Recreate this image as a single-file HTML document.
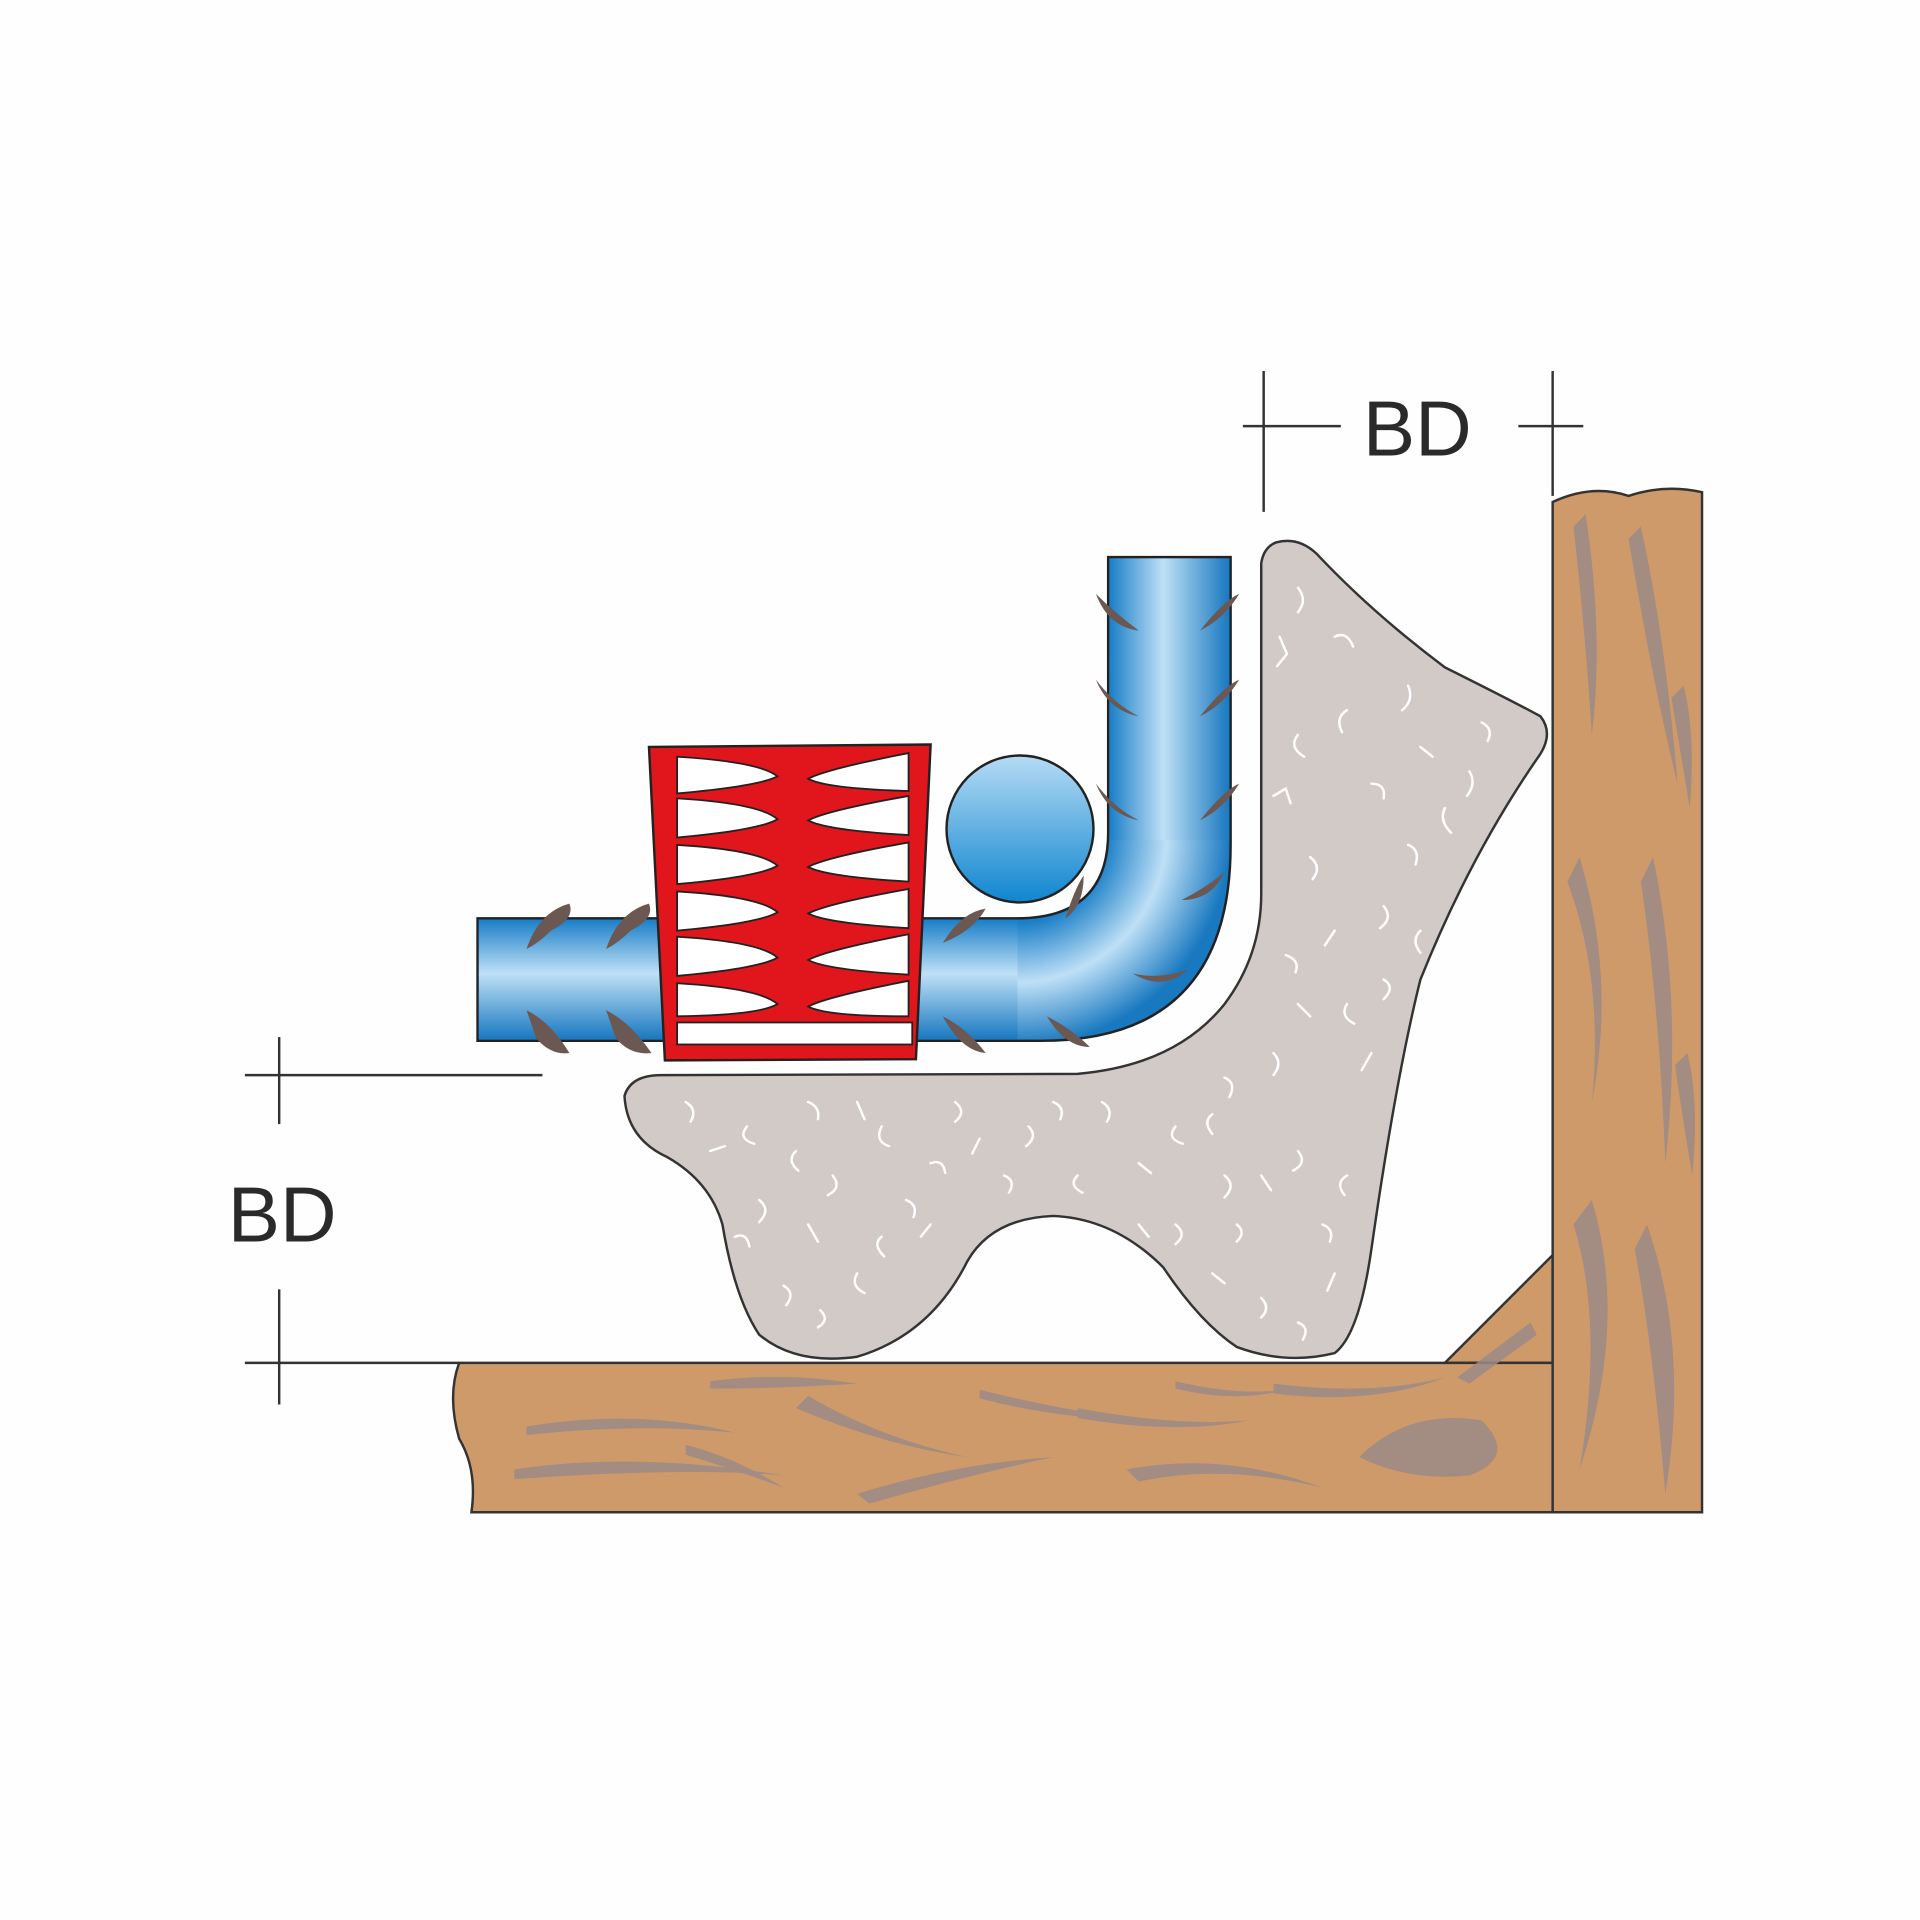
<!DOCTYPE html>
<html><head><meta charset="utf-8"><style>
html,body{margin:0;padding:0;background:#fefefe}
svg{display:block}
</style></head><body>
<svg width="1920" height="1920" viewBox="0 0 1568 1568" xmlns="http://www.w3.org/2000/svg">
<defs>
<linearGradient id="hg" x1="0" y1="0" x2="0" y2="1">
<stop offset="0" stop-color="#1a7fc8"/><stop offset="0.45" stop-color="#bfe0f6"/><stop offset="1" stop-color="#1878c0"/></linearGradient>
<linearGradient id="vg" x1="0" y1="0" x2="1" y2="0">
<stop offset="0" stop-color="#1a7fc8"/><stop offset="0.45" stop-color="#bfe0f6"/><stop offset="1" stop-color="#1878c0"/></linearGradient>
<radialGradient id="cg" cx="830" cy="680" r="175" gradientUnits="userSpaceOnUse">
<stop offset="0.42" stop-color="#1a7fc8"/><stop offset="0.7" stop-color="#bfe0f6"/><stop offset="1" stop-color="#1878c0"/></radialGradient>
<linearGradient id="ball" x1="0" y1="0" x2="0" y2="1">
<stop offset="0" stop-color="#b5dbf4"/><stop offset="1" stop-color="#0f86cf"/></linearGradient>
</defs>
<rect width="1568" height="1568" fill="#fefefe"/>

<!-- wood -->
<path d="M1180,1113 L1268,1025 L1268,1113 Z" fill="#cf9a6a" stroke="#333" stroke-width="2"/>
<path d="M375,1113 L1270,1113 L1270,1235 L385,1235 Q390,1200 375,1175 Q365,1140 375,1113 Z" fill="#cf9a6a" stroke="#333" stroke-width="2"/>
<path d="M1268,410 Q1300,395 1330,405 Q1360,395 1390,402 L1390,1235 L1268,1235 Z" fill="#cf9a6a" stroke="#333" stroke-width="2"/>
<g fill="#9c8a86" opacity="0.85">
<path d="M430,1165 Q520,1150 600,1170 Q520,1162 430,1172Z"/>
<path d="M420,1200 Q520,1185 640,1205 Q560,1198 420,1208Z"/>
<path d="M650,1150 Q720,1180 790,1190 Q720,1175 660,1140Z"/>
<path d="M700,1220 Q780,1195 860,1190 Q790,1205 710,1228Z"/>
<path d="M880,1150 Q960,1165 1020,1160 Q960,1172 880,1158Z"/>
<path d="M920,1200 Q1000,1185 1080,1215 Q1000,1195 930,1210Z"/>
<path d="M1110,1190 Q1150,1150 1210,1160 Q1240,1190 1200,1205 Q1150,1210 1110,1190Z M1140,1188 Q1180,1170 1210,1180 Q1190,1195 1140,1188Z"/>
<path d="M1040,1130 Q1120,1140 1180,1125 Q1120,1148 1040,1138Z"/>
<path d="M580,1128 Q640,1120 700,1130 Q640,1134 580,1134Z"/>
<path d="M800,1135 Q860,1150 930,1160 Q860,1158 800,1142Z"/>
<path d="M560,1180 Q600,1190 640,1215 Q600,1200 560,1188Z"/>
<path d="M960,1128 Q1010,1140 1050,1135 Q1010,1146 960,1134Z"/>
<path d="M1190,1125 L1250,1080 L1255,1090 L1200,1130Z"/>
<path d="M1295,420 Q1310,520 1300,600 Q1295,520 1285,430Z"/>
<path d="M1340,430 Q1360,520 1370,640 Q1350,560 1330,440Z"/>
<path d="M1290,700 Q1320,800 1300,900 Q1310,800 1280,720Z"/>
<path d="M1350,700 Q1375,820 1360,950 Q1355,820 1340,720Z"/>
<path d="M1300,980 Q1330,1080 1290,1200 Q1310,1080 1285,1000Z"/>
<path d="M1345,1000 Q1380,1100 1360,1220 Q1350,1100 1335,1020Z"/>
<path d="M1375,560 Q1385,600 1380,660 Q1370,600 1365,570Z"/>
<path d="M1378,860 Q1388,900 1382,960 Q1372,900 1368,870Z"/>
</g>

<!-- concrete -->
<path d="M1042,443 Q1060,438 1075,452 Q1120,500 1180,545 Q1240,575 1258,585 Q1270,600 1255,620 Q1200,700 1160,800 Q1140,880 1120,1020 Q1110,1090 1090,1105 Q1050,1115 1010,1100 Q980,1080 950,1035 Q910,995 860,993 Q810,995 790,1030 Q760,1090 700,1108 Q650,1115 620,1090 Q600,1060 590,1000 Q580,965 545,945 Q512,930 510,895 Q515,878 540,878 L880,877 Q960,870 1000,820 Q1030,780 1030,730 L1030,460 Q1032,447 1042,443 Z" fill="#d2cac7" stroke="#333" stroke-width="2"/>
<g stroke="#fff" stroke-width="2" fill="none" stroke-linecap="round">
<path d="M1060,480 q8,10 0,20"/><path d="M1090,520 q10,-5 15,8"/><path d="M1150,560 q5,12 -5,20"/><path d="M1210,590 q10,5 5,15"/>
<path d="M1060,600 q-8,10 5,18"/><path d="M1120,640 q12,0 10,12"/><path d="M1180,660 q-5,10 5,20"/><path d="M1070,700 q10,8 2,18"/>
<path d="M1130,740 q8,10 -3,18"/><path d="M1050,780 q12,4 8,14"/><path d="M1100,820 q-6,10 6,16"/><path d="M1040,860 q8,8 0,18"/>
<path d="M560,900 q10,6 4,16"/><path d="M610,920 q-8,10 6,14"/><path d="M660,900 q10,4 8,14"/><path d="M720,920 q-6,12 6,16"/>
<path d="M780,900 q10,8 0,16"/><path d="M840,920 q8,8 -2,16"/><path d="M900,900 q10,6 4,16"/><path d="M960,920 q-8,10 6,14"/>
<path d="M620,980 q10,8 0,18"/><path d="M680,960 q8,10 -4,16"/><path d="M740,980 q10,4 6,14"/><path d="M1000,960 q10,8 0,18"/>
<path d="M1060,940 q8,10 -4,16"/><path d="M1080,1000 q10,4 6,14"/><path d="M640,1050 q10,6 2,16"/><path d="M1030,1060 q8,8 0,16"/>
<path d="M700,1040 q-6,10 6,16"/><path d="M960,1000 q10,8 0,16"/><path d="M880,960 q-8,8 4,14"/><path d="M820,960 q10,4 4,14"/>
<path d="M1045,520 l6,14 l-8,10"/><path d="M1100,580 q-10,6 -4,18"/><path d="M1160,610 l10,8"/><path d="M1200,630 q6,10 -2,20"/>
<path d="M1040,650 l10,-6 l4,12"/><path d="M1150,690 q10,4 6,16"/><path d="M1090,760 l-8,12"/><path d="M1160,760 q-8,8 0,18"/>
<path d="M1060,820 l10,10"/><path d="M1130,800 q10,6 0,16"/><path d="M1120,860 l-8,14"/><path d="M1000,880 q10,4 4,16"/>
<path d="M580,940 l12,-4"/><path d="M650,940 q-8,8 2,16"/><path d="M700,900 l6,14"/><path d="M760,950 q10,-4 12,8"/>
<path d="M800,930 l-6,12"/><path d="M860,900 q10,4 6,14"/><path d="M930,950 l10,8"/><path d="M990,910 q-8,6 0,16"/>
<path d="M1030,960 l8,12"/><path d="M1100,960 q-10,6 -2,16"/><path d="M1090,1040 l-6,14"/><path d="M1060,1080 q10,4 4,14"/>
<path d="M990,1040 l10,8"/><path d="M600,1010 q10,-4 12,8"/><path d="M660,1000 l8,14"/><path d="M720,1010 q-8,6 2,16"/>
<path d="M760,1000 l-8,10"/><path d="M670,1070 q8,8 -2,14"/><path d="M1010,1000 q8,6 0,14"/><path d="M930,1000 l8,10"/>
</g>

<!-- blue bar -->
<path d="M390,750 L830,750 Q905,750 905,680 L905,455 L1005,455 L1005,690 Q1005,850 850,850 L390,850 Z" fill="url(#cg)" stroke="#222" stroke-width="2"/>
<rect x="391" y="751" width="440" height="98" fill="url(#hg)"/>
<rect x="906" y="456" width="98" height="230" fill="url(#vg)"/>
<circle cx="833" cy="677" r="60" fill="url(#ball)" stroke="#222" stroke-width="2"/>

<!-- ribs -->
<g fill="#6b5853">
<path d="M430,775 Q440,745 465,738 Q470,750 450,760 Q440,770 430,775Z"/>
<path d="M495,775 Q505,745 530,738 Q535,750 515,760 Q505,770 495,775Z"/>
<path d="M430,825 Q450,835 465,860 Q450,862 438,848Z"/>
<path d="M495,825 Q515,835 532,860 Q515,862 503,848Z"/>
<path d="M770,770 Q785,745 805,742 Q795,760 770,770Z"/>
<path d="M770,830 Q790,840 805,860 Q785,858 770,830Z"/>
<path d="M855,830 Q875,840 890,855 Q870,855 855,830Z"/>
<path d="M870,750 Q878,725 885,715 Q885,740 870,750Z"/>
<path d="M925,795 Q945,800 970,792 Q950,810 925,795Z"/>
<path d="M965,735 Q985,725 1000,712 Q990,735 965,735Z"/>
<path d="M895,485 Q910,500 930,515 Q905,512 895,485Z"/>
<path d="M1012,485 Q1000,505 980,515 Q1000,490 1012,485Z"/>
<path d="M895,555 Q910,575 930,585 Q905,580 895,555Z"/>
<path d="M1012,555 Q1000,575 980,585 Q1000,560 1012,555Z"/>
<path d="M895,640 Q910,660 930,670 Q905,665 895,640Z"/>
<path d="M1012,640 Q1000,660 980,670 Q1000,645 1012,640Z"/>
</g>

<!-- red chair -->
<path d="M530,610 L760,608 L748,865 L543,866 Z" fill="#e1151c" stroke="#222" stroke-width="2"/>
<g fill="#fff" stroke="#222" stroke-width="1.5">
<path d="M553,618 Q620,622 635,634 Q620,642 553,648Z"/>
<path d="M553,652 Q620,656 635,669 Q620,678 553,684Z"/>
<path d="M553,690 Q620,694 635,707 Q620,716 553,722Z"/>
<path d="M553,728 Q620,732 635,745 Q620,754 553,760Z"/>
<path d="M553,765 Q620,769 635,782 Q620,791 553,797Z"/>
<path d="M553,803 Q620,807 635,820 Q620,829 553,830Z"/>
<path d="M742,615 Q675,628 660,636 Q675,644 742,646Z"/>
<path d="M742,650 Q675,662 660,670 Q675,678 742,682Z"/>
<path d="M742,688 Q675,700 660,708 Q675,716 742,720Z"/>
<path d="M742,726 Q675,738 660,746 Q675,754 742,758Z"/>
<path d="M742,763 Q675,776 660,784 Q675,792 742,796Z"/>
<path d="M742,801 Q675,814 660,822 Q675,830 742,830Z"/>
<rect x="553" y="835" width="192" height="18"/>
</g>

<!-- dimension lines -->
<g stroke="#333" stroke-width="2">
<line x1="1032" y1="303" x2="1032" y2="418"/><line x1="1015" y1="348" x2="1095" y2="348"/>
<line x1="1268" y1="303" x2="1268" y2="405"/><line x1="1240" y1="348" x2="1293" y2="348"/>
<line x1="228" y1="847" x2="228" y2="918"/><line x1="200" y1="878" x2="443" y2="878"/>
<line x1="228" y1="1053" x2="228" y2="1147"/><line x1="200" y1="1113" x2="375" y2="1113"/>
</g>
<g font-family="Liberation Sans, sans-serif" font-size="64" fill="#2a2a2a">
<text x="1113" y="372">BD</text>
<text x="186" y="1014">BD</text>
</g>
</svg>
</body></html>
